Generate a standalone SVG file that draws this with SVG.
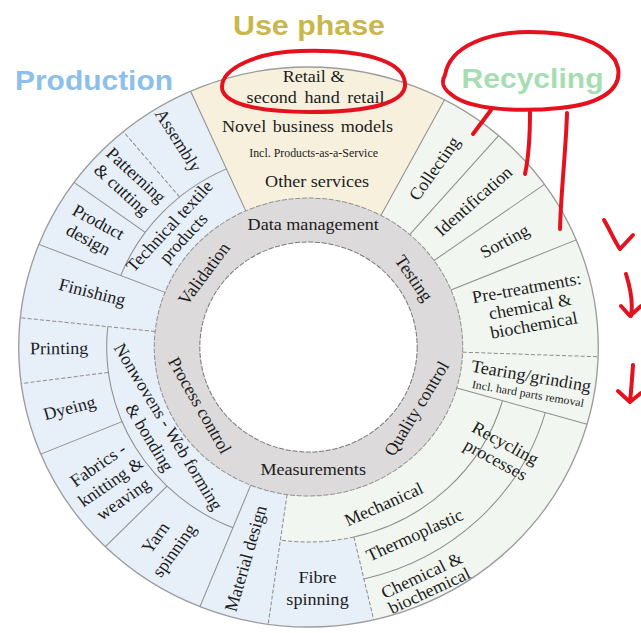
<svg xmlns="http://www.w3.org/2000/svg" width="641" height="633" viewBox="0 0 641 633">
<style>
.t{font-family:"Liberation Serif","Times New Roman",serif;font-size:17.5px;fill:#1c1c1c;text-anchor:middle}
.sm{font-size:11.5px}
.ttl{font-family:"Liberation Sans",Arial,sans-serif;font-weight:bold;font-size:28px;text-anchor:middle}
.ln{fill:none;stroke:#8e8e8e;stroke-width:1}
.da{stroke-dasharray:4 2}
.red{fill:none;stroke:#e3121e;stroke-width:4;stroke-linecap:round;stroke-linejoin:round}
</style>
<rect width="641" height="633" fill="#ffffff"/>
<g id="titles">
  <text id="title-use" class="ttl" x="309" y="35" fill="#c8b74a" textLength="152" lengthAdjust="spacingAndGlyphs">Use phase</text>
  <text id="title-production" class="ttl" x="94" y="90" fill="#8dbfea" textLength="158" lengthAdjust="spacingAndGlyphs">Production</text>
  <text id="title-recycling" class="ttl" x="532.5" y="88" fill="#a6deb1" textLength="142" lengthAdjust="spacingAndGlyphs">Recycling</text>
</g>
<g transform="translate(308.5,347) scale(1.035,1)">
  <g id="bands">
    <circle r="280" fill="#e7eff8"/>
    <path d="M -113.89 -255.79 A 280 280 0 0 1 131.45 -247.23 L 69.95 -131.56 A 149 149 0 0 0 -60.60 -136.12 Z" fill="#f6f0dd"/>
    <path d="M 131.45 -247.23 A 280 280 0 0 1 62.99 272.82 L 43.87 190.00 A 195 195 0 0 1 -27.14 193.10 L -20.74 147.55 A 149 149 0 0 0 69.95 -131.56 Z" fill="#f2f6f0"/>
    <circle r="280" fill="none" stroke="#9c9c9c" stroke-width="1.3"/>
    <circle r="149" fill="#dcdada" stroke="#929292" stroke-dasharray="5 1.5"/>
    <circle r="105" fill="#ffffff" stroke="#7a7a7a" stroke-dasharray="5 1.5"/>
  </g>
  <g id="connectors" class="ln">
    <path d="M -60.60 -136.12 L -113.89 -255.79"/>
    <path d="M 69.95 -131.56 L 131.45 -247.23"/>
    <path d="M 97.75 -112.45 L 183.70 -211.32"/>
    <path d="M 121.30 -86.52 L 227.95 -162.60"/>
    <path d="M 137.66 -57.02 L 258.69 -107.15"/>
    <path class="da" d="M 148.91 5.20 L 279.83 9.77"/>
    <path d="M 143.23 41.07 L 269.15 77.18"/>
    <path class="da" d="M 43.87 190.00 L 62.99 272.82"/>
    <path class="da" d="M -20.74 147.55 L -38.97 277.28"/>
    <path d="M -55.82 138.15 L -104.89 259.61"/>
    <path d="M -136.68 139.08 L -196.25 199.71"/>
    <path d="M -180.16 74.62 L -258.69 107.15"/>
    <path class="da" d="M -193.33 25.45 L -277.60 36.55"/>
    <path class="da" d="M -148.18 -15.57 L -278.47 -29.27"/>
    <path d="M -138.63 -54.61 L -260.52 -102.62"/>
    <path d="M -157.76 -114.62 L -226.53 -164.58"/>
    <path class="da" d="M -124.56 -150.03 L -178.86 -215.43"/>
    <path d="M 187.45 53.75 A 195 195 0 0 1 43.87 190.00"/>
    <path d="M 228.78 65.60 A 238 238 0 0 1 53.54 231.90"/>
    <path class="da" d="M 43.87 190.00 A 195 195 0 0 1 -27.14 193.10"/>
    <path d="M -73.05 180.80 A 195 195 0 0 1 -193.93 -20.38"/>
    <path d="M -181.43 -71.47 A 195 195 0 0 1 -79.31 -178.14"/>
  </g>
  <g id="use-phase">
    <text class="t" x="4.9" y="-265">Retail &amp;</text>
    <text class="t" x="6.8" y="-244" word-spacing="3">second hand retail</text>
    <text class="t" x="-1" y="-215" word-spacing="2">Novel business models</text>
    <text class="t sm" x="4.9" y="-190">Incl. Products-as-a-Service</text>
    <text class="t" x="8.3" y="-160">Other services</text>
  </g>
  <g id="data-management"><text class="t" x="4.5" y="-117">Data management</text></g>
  <g id="testing"><text class="t" transform="rotate(56) translate(0,-117)">Testing</text></g>
  <g id="quality-control"><text class="t" transform="rotate(120.5) translate(0,-127) rotate(180)">Quality control</text></g>
  <g id="measurements"><text class="t" x="4.5" y="128">Measurements</text></g>
  <g id="process-control"><text class="t" transform="rotate(241) translate(0,-126) rotate(180)">Process control</text></g>
  <g id="validation"><text class="t" transform="rotate(306) translate(0,-119)">Validation</text></g>
  <g id="collecting"><text class="t" transform="rotate(34.5) translate(0,-216) rotate(-90)" y="5">Collecting</text></g>
  <g id="identification"><text class="t" transform="rotate(47.75) translate(0,-216) rotate(-90)" y="5">Identification</text></g>
  <g id="sorting"><text class="t" transform="rotate(61) translate(0,-217) rotate(-90)" y="5">Sorting</text></g>
  <g id="pre-treatments"><text class="t" transform="rotate(79.5) translate(0,-218) rotate(-90)"><tspan x="0" y="-14">Pre-treatments:</tspan><tspan x="0" y="5">chemical &amp;</tspan><tspan x="0" y="24">biochemical</tspan></text></g>
  <g id="tearing"><text class="t" transform="rotate(100) translate(0,-217) rotate(-90)"><tspan x="0" y="-3">Tearing/grinding</tspan><tspan class="sm" x="0" y="13">Incl. hard parts removal</tspan></text></g>
  <g id="recycling-processes"><text class="t" transform="rotate(119.2) translate(0,-213) rotate(-90)"><tspan x="0" y="-3">Recycling</tspan><tspan x="0" y="16">processes</tspan></text></g>
  <g id="mechanical"><text class="t" transform="rotate(155.2) translate(0,-179) rotate(180)">Mechanical</text></g>
  <g id="thermoplastic"><text class="t" transform="rotate(151.5) translate(0,-220) rotate(183.5)">Thermoplastic</text></g>
  <g id="chemical"><text class="t" transform="rotate(154.4) translate(0,-259) rotate(180)"><tspan x="0" y="0">Chemical &amp;</tspan><tspan x="0" y="17">biochemical</tspan></text></g>
  <g id="fibre-spinning"><text class="t"><tspan x="8.7" y="236">Fibre</tspan><tspan x="8.7" y="258">spinning</tspan></text></g>
  <g id="material-design"><text class="t" transform="rotate(195.8) translate(0,-220) rotate(90)" y="5">Material design</text></g>
  <g id="yarn-spinning"><text class="t" transform="rotate(215) translate(0,-241) rotate(90)"><tspan x="0" y="-6">Yarn</tspan><tspan x="0" y="16">spinning</tspan></text></g>
  <g id="fabrics"><text class="t" transform="rotate(234.6) translate(0,-234) rotate(90)"><tspan x="0" y="-16">Fabrics -</tspan><tspan x="0" y="5">knitting &amp;</tspan><tspan x="0" y="26">weaving</tspan></text></g>
  <g id="dyeing"><text class="t" transform="rotate(255) translate(0,-239) rotate(90)" y="5">Dyeing</text></g>
  <g id="printing"><text class="t" transform="rotate(269.5) translate(0,-241) rotate(90)" y="5">Printing</text></g>
  <g id="finishing"><text class="t" transform="rotate(284.5) translate(0,-216) rotate(90)" y="5">Finishing</text></g>
  <g id="product-design"><text class="t" transform="rotate(299) translate(0,-238) rotate(90)"><tspan x="0" y="-5">Product</tspan><tspan x="0" y="15">design</tspan></text></g>
  <g id="patterning"><text class="t" transform="rotate(313.3) translate(0,-239) rotate(90)"><tspan x="0" y="-5">Patterning</tspan><tspan x="0" y="15">&amp; cutting</tspan></text></g>
  <g id="assembly"><text class="t" transform="rotate(328.5) translate(0,-242) rotate(90)" y="5">Assembly</text></g>
  <g id="technical-textile"><text class="t" transform="rotate(312) translate(0,-175)"><tspan x="0" y="0">Technical textile</tspan><tspan x="0" y="18">products</tspan></text></g>
  <g id="nonwovens"><text class="t" transform="rotate(239.5) translate(0,-163) rotate(180)"><tspan x="0" y="0">Nonwovens - Web forming</tspan><tspan x="0" y="21">&amp; bonding</tspan></text></g>
</g>
<g id="annotations" class="red">
  <path d="M 300 51 C 360 49 403 60 405 83 C 407 103 370 112 310 112 C 255 112 222 103 222 87 C 222 68 258 52 300 51 Z"/>
  <path d="M 445 75 C 450 45 490 32 530 32 C 570 32 600 40 615 60 L 618 68 C 622 90 600 104 560 108 C 520 112 470 110 452 95 C 442 88 441 82 445 75 Z"/>
  <path d="M 491 110 L 473 134"/>
  <path d="M 530 112 C 530 140 528 160 525 174"/>
  <path d="M 567 113 C 566 150 561 190 560 229"/>
  <path d="M 604 220 C 610 230 615 242 620 249 L 633 235"/>
  <path d="M 626 274 C 631 290 633 305 631 316 M 621 306 L 630 316 L 641 306"/>
  <path d="M 633 365 C 632 380 631 392 630 402 M 618 391 L 630 402 L 641 393"/>
</g>
</svg>
